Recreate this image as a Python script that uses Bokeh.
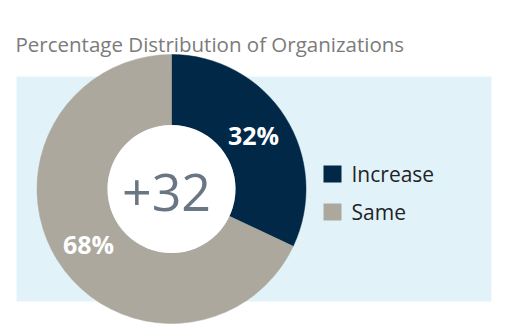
import numpy as np
from bokeh.plotting import figure
from bokeh.models import Range1d
from bokeh.core.properties import value
from bokeh.embed import file_html
from bokeh.resources import INLINE

# ---- data ----
title = "Percentage Distribution of Organizations"
categories = ["Increase", "Same"]
shares = [32, 68]
labels = ["32%", "68%"]
center_label = "+32"
colors = ["#012847", "#aca89e"]

W, H = 512, 334
p = figure(width=W, height=H, x_range=Range1d(0, W), y_range=Range1d(0, H),
           output_backend="svg", toolbar_location=None, min_border=0)
p.axis.visible = False
p.grid.visible = False
p.outline_line_color = None
p.background_fill_color = "white"
p.border_fill_color = "white"

def Y(py):
    return H - py

# light blue panel
p.quad(left=16, right=491, bottom=Y(301), top=Y(76), fill_color="#e1f3f8", line_color=None)

cx, cy = 171, Y(188.5)
r_out, r_in = 134.5, 64
fr = np.array(shares) / sum(shares)
ends = np.pi / 2 - 2 * np.pi * np.cumsum(fr)
starts = np.concatenate([[np.pi / 2], ends[:-1]])
p.annular_wedge(x=cx, y=cy, inner_radius=r_in, outer_radius=r_out,
                start_angle=list(ends), end_angle=list(starts),
                fill_color=colors, line_color=colors, line_width=0.5)
p.circle(x=cx, y=cy, radius=r_in, fill_color="white", line_color=None)

# percent labels
lx = [253, 88]
ly = [Y(134), Y(243)]
p.text(x=lx, y=ly, text=labels, text_color="white", text_font=value("Open Sans"),
       text_font_style="bold", text_font_size="25px", text_align="center",
       text_baseline="middle")

p.text(x=[166], y=[Y(192)], text=[center_label], text_color="#6a7684",
       text_font=value("Open Sans"), text_font_size="52px", text_align="center",
       text_baseline="middle")

# title
p.text(x=[15], y=[Y(43)], text=[title], text_color="#7b7b7b", text_font=value("Open Sans"),
       text_font_size="20.5px", text_align="left", text_baseline="alphabetic")

# legend
sq_y = [Y(173.5), Y(211.5)]
p.rect(x=[332, 332], y=sq_y, width=18, height=17, fill_color=colors, line_color=None)
p.text(x=[351, 351], y=sq_y, text=categories, text_color="#1f2328",
       text_font=value("Open Sans"), text_font_size="21px", text_align="left",
       text_baseline="middle")

open("out.html", "w").write(file_html(p, INLINE))
